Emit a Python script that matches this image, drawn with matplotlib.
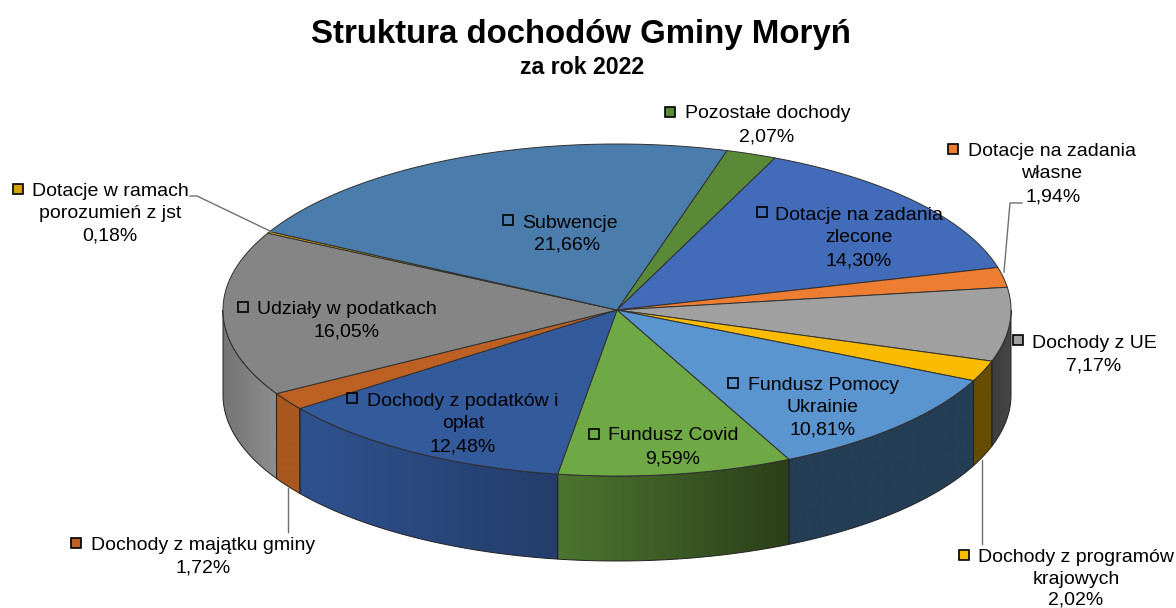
import numpy as np
import matplotlib
matplotlib.use('Agg')
import matplotlib.pyplot as plt
from matplotlib.patches import Polygon, Rectangle
from matplotlib.colors import LinearSegmentedColormap

plt.rcParams['font.family'] = ['Liberation Sans', 'DejaVu Sans']

# Slices, clockwise from the top left of the pie
categories = ['Pozostałe dochody', 'Dotacje na zadania zlecone', 'Dotacje na zadania własne',
              'Dochody z UE', 'Dochody z programów krajowych', 'Fundusz Pomocy Ukrainie',
              'Fundusz Covid', 'Dochody z podatków i opłat', 'Dochody z majątku gminy',
              'Udziały w podatkach', 'Dotacje w ramach porozumień z jst', 'Subwencje']
shares = [2.07, 14.30, 1.94, 7.17, 2.02, 10.81, 9.59, 12.48, 1.72, 16.05, 0.18, 21.66]
top_colors = ['#5a8a38', '#426cb9', '#ed7d31', '#a0a0a0', '#f8bb00', '#5a95d0',
              '#6fa945', '#335a9b', '#bc6024', '#858585', '#d6a200', '#4a7dab']
wall_left = ['#3f6128', '#2f4c80', '#a5561f', '#3d3d3d', '#664c00', '#243e55',
             '#4c752f', '#2f528f', '#a9581f', '#747474', '#8f6d00', '#335a80']
wall_right = ['#3f6128', '#2f4c80', '#a5561f', '#474747', '#664c00', '#243e55',
              '#2b3f1a', '#243d6a', '#a9581f', '#8e8e8e', '#8f6d00', '#335a80']

# Pie geometry in picture pixels
cx, cy, rx, ry, depth = 617, 310, 394, 166, 85
start = 16.2


def rim(theta):
    t = np.radians(theta)
    return cx + rx * np.sin(t), cy - ry * np.cos(t)


fig = plt.figure(figsize=(11.76, 6.08), dpi=100)
ax = fig.add_axes([0, 0, 1, 1])
ax.set_xlim(0, 1176)
ax.set_ylim(608, 0)
ax.axis('off')

total = sum(shares)
edges = start + np.cumsum([0] + shares) * 360 / total

# Side walls, only the front half of the rim is visible
for i in range(len(shares)):
    a, b = max(edges[i], 90), min(edges[i + 1], 270)
    if b <= a:
        continue
    th = np.linspace(a, b, 80)
    x, y = rim(th)
    pts = np.column_stack([np.r_[x, x[::-1]], np.r_[y, y[::-1] + depth]])
    poly = Polygon(pts, closed=True, facecolor='none', edgecolor='#222222', lw=0.7, zorder=2)
    ax.add_patch(poly)
    cmap = LinearSegmentedColormap.from_list('w', [wall_left[i], wall_right[i]])
    im = ax.imshow(np.linspace(0, 1, 256).reshape(1, -1), cmap=cmap, aspect='auto',
                   extent=[min(x), max(x), max(y) + depth, min(y)], zorder=1)
    im.set_clip_path(poly)

ax.set_xlim(0, 1176)
ax.set_ylim(608, 0)

# Top of the pie
for i in range(len(shares)):
    th = np.linspace(edges[i], edges[i + 1], 80)
    x, y = rim(th)
    pts = np.column_stack([np.r_[cx, x], np.r_[cy, y]])
    ax.add_patch(Polygon(pts, closed=True, facecolor=top_colors[i], edgecolor='#303030',
                         lw=0.7, zorder=3))

# Leader lines
leaders = [([190, 197, 272], [196, 196, 232]),
           ([1022, 1010, 1004], [203, 203, 272]),
           ([982, 982], [460, 544]),
           ([288, 288], [488, 532])]
for lx, ly in leaders:
    ax.plot(lx, ly, color='#707070', lw=1, zorder=4)

# Labels: key position, then the centred text lines
labels = [
    (0, (670, 112), [('Pozostałe dochody', 768, 113), ('2,07%', 767, 136)]),
    (1, (762, 212), [('Dotacje na zadania', 859, 215), ('zlecone', 859, 237), ('14,30%', 859, 260)]),
    (2, (953, 149), [('Dotacje na zadania', 1052, 151), ('własne', 1052, 173), ('1,94%', 1053, 196)]),
    (3, (1018, 340), [('Dochody z UE', 1094, 342), ('7,17%', 1094, 365)]),
    (4, (964, 555), [('Dochody z programów', 1076, 556), ('krajowych', 1076, 578), ('2,02%', 1076, 599)]),
    (5, (733, 383), [('Fundusz Pomocy', 823, 384), ('Ukrainie', 823, 406), ('10,81%', 823, 429)]),
    (6, (594, 434), [('Fundusz Covid', 673, 435), ('9,59%', 673, 458)]),
    (7, (352, 398), [('Dochody z podatków i', 463, 401), ('opłat', 463, 423), ('12,48%', 463, 446)]),
    (8, (76, 543), [('Dochody z majątku gminy', 203, 544), ('1,72%', 203, 567)]),
    (9, (243, 307), [('Udziały w podatkach', 347, 308), ('16,05%', 347, 331)]),
    (10, (18, 189), [('Dotacje w ramach', 110, 190), ('porozumień z jst', 110, 212), ('0,18%', 110, 235)]),
    (11, (508, 220), [('Subwencje', 570, 222), ('21,66%', 567, 244)]),
]
for idx, key, lines in labels:
    ax.add_patch(Rectangle((key[0] - 5, key[1] - 5), 10, 10, facecolor=top_colors[idx],
                           edgecolor='black', lw=1.2, zorder=5))
    for txt, tx, ty in lines:
        ax.text(tx, ty + 1, txt, ha='center', va='center', fontsize=14, color='black', zorder=6)

ax.text(581, 34, 'Struktura dochodów Gminy Moryń', ha='center', va='center',
        fontsize=23.8, fontweight='bold', color='black')
ax.text(582, 67, 'za rok 2022', ha='center', va='center',
        fontsize=16.7, fontweight='bold', color='black')

fig.savefig('out.png', dpi=100)
